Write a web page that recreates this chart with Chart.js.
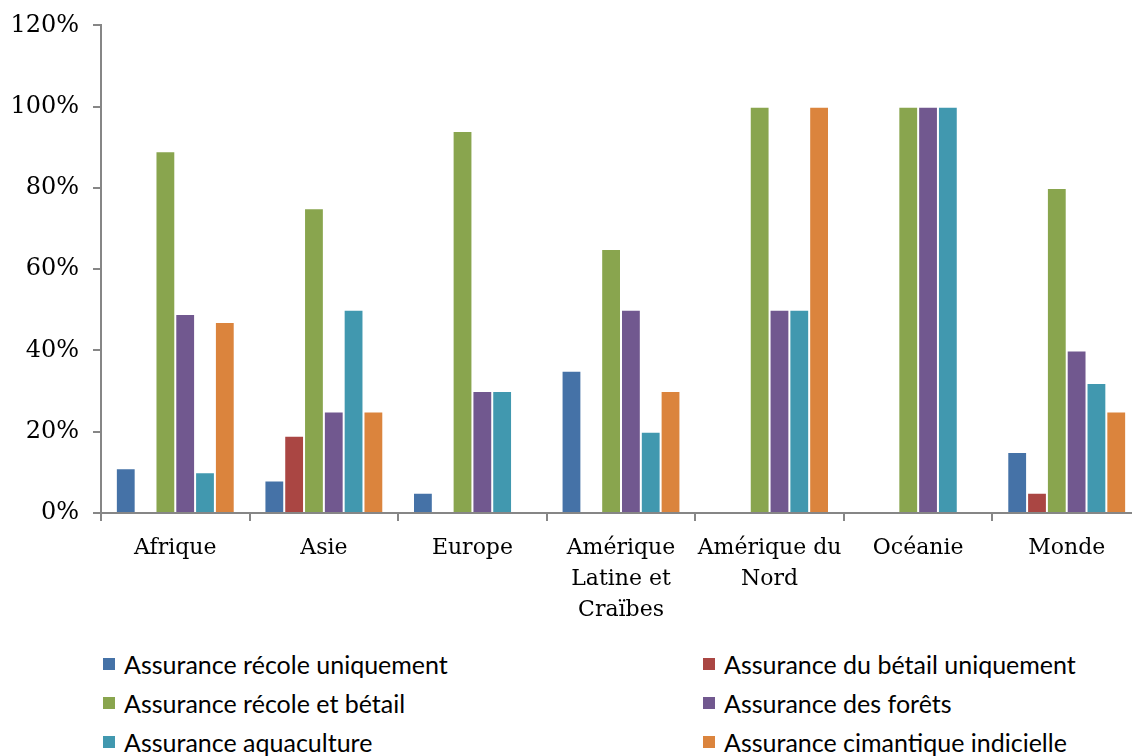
<!DOCTYPE html>
<html lang="fr">
<head>
<meta charset="utf-8">
<script src="https://cdn.jsdelivr.net/npm/chart.js@4/dist/chart.umd.min.js"></script>
<style>
  html, body { margin: 0; padding: 0; background: #fff; overflow: hidden; }
  body { width: 1132px; height: 756px; position: relative; }
  #wrap { position: absolute; left: 0; top: -3px; width: 1141px; height: 640px; }
  #legende { position: absolute; left: 0; top: 646px; width: 1132px; }
  .item { position: absolute; display: flex; align-items: center; height: 36px;
          font-family: Lato, "Open Sans", sans-serif; font-size: 25px; color: #000; }
  .item span.box { width: 12px; height: 12px; margin-right: 9px; }
</style>
</head>
<body>
<div id="wrap"><canvas id="grafico"></canvas></div>
<div id="legende"></div>
<script>
const regions = ["Afrique", "Asie", "Europe", ["Amérique", "Latine et", "Craïbes"], ["Amérique du", "Nord"], "Océanie", "Monde"];

const recoleSeule = [11, 8, 5, 35, 0, 0, 15];
const betailSeul = [0, 19, 0, 0, 0, 0, 5];
const recoleBetail = [89, 75, 94, 65, 100, 100, 80];
const forets = [49, 25, 30, 50, 50, 100, 40];
const aquaculture = [10, 50, 30, 20, 50, 100, 32];
const climatique = [47, 25, 0, 30, 100, 0, 25];

const nomsSeries = [
  "Assurance récole uniquement",
  "Assurance du bétail uniquement",
  "Assurance récole et bétail",
  "Assurance des forêts",
  "Assurance aquaculture",
  "Assurance cimantique indicielle"
];
const couleurs = ["#4572A7", "#AA4643", "#89A54E", "#71588F", "#4198AF", "#DB843D"];
const valeurs = [recoleSeule, betailSeul, recoleBetail, forets, aquaculture, climatique];

const axe = "#868686";

document.addEventListener("DOMContentLoaded", () => {
  const grafico = document.getElementById("grafico");

  const chart = new Chart(grafico, {
    type: "bar",
    data: {
      labels: regions,
      datasets: valeurs.map((v, i) => ({
        label: nomsSeries[i],
        data: v,
        backgroundColor: couleurs[i],
        borderColor: "rgba(255,255,255,0.45)",
        borderWidth: 1,
        categoryPercentage: 0.8,
        barPercentage: 1
      }))
    },
    options: {
      responsive: true,
      maintainAspectRatio: false,
      animation: false,
      layout: { padding: { top: 20, left: 0, right: 0, bottom: 0 } },
      plugins: { legend: { display: false }, tooltip: { enabled: false } },
      scales: {
        x: {
          grid: { display: true, drawOnChartArea: false, color: axe, lineWidth: 2, tickLength: 8, offset: true },
          border: { color: axe, width: 2 },
          ticks: { color: "#000", font: { family: "'DejaVu Serif', serif", size: 22, lineHeight: 1.4 }, padding: 12, maxRotation: 0, autoSkip: false },
          afterFit: (s) => { s.height = 124; }
        },
        y: {
          min: 0,
          max: 120,
          grid: { display: true, drawOnChartArea: false, color: axe, lineWidth: 2, tickLength: 8 },
          border: { color: axe, width: 2 },
          ticks: { stepSize: 20, color: "#000", font: { family: "'DejaVu Serif', serif", size: 24 }, padding: 14, callback: (v) => v + "%" },
          afterFit: (s) => { s.width = 101; }
        }
      }
    }
  });

  // legende en deux colonnes
  const legende = document.getElementById("legende");
  chart.data.datasets.forEach((ds, i) => {
    const el = document.createElement("div");
    el.className = "item";
    el.style.left = (i % 2 === 0 ? 103 : 703) + "px";
    el.style.top = Math.floor(i / 2) * 39 + "px";
    el.innerHTML = `<span class="box" style="background:${ds.backgroundColor}"></span>${ds.label}`;
    legende.appendChild(el);
  });
});
</script>
</body>
</html>
